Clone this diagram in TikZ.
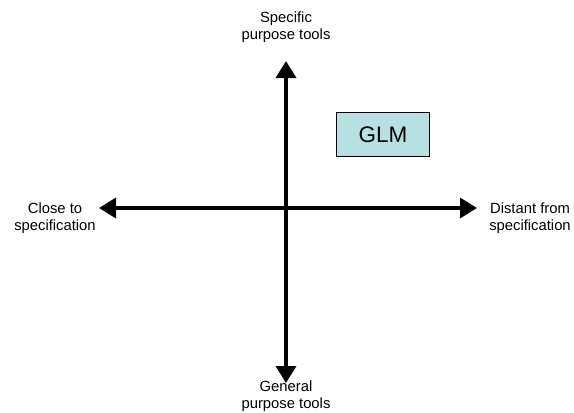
\documentclass[tikz,border=0pt]{standalone}
\usepackage{fontspec}
\setmainfont{Liberation Sans}
\usetikzlibrary{arrows.meta}
\begin{document}
\begin{tikzpicture}[x=1pt,y=-1pt,
  axis/.style={line width=3.5pt,-{Triangle[width=20pt,length=17pt]}},
  lbl/.style={align=center,font=\fontsize{14.8}{16.5}\selectfont,inner sep=0pt,anchor=base},
  glmbox/.style={draw=black,line width=1.6pt,fill=glmfill,minimum width=93pt,minimum height=44pt,font=\fontsize{22.5}{24}\selectfont}]
\definecolor{glmfill}{HTML}{B8E0E2}
\useasboundingbox (0,0) rectangle (574,413);
\coordinate (o) at (286,208);
\coordinate (top) at (286,61);
\coordinate (bot) at (286,383);
\coordinate (lft) at (99,208);
\coordinate (rgt) at (477,208);
\draw[axis] (o) -- (top);
\draw[axis] (o) -- (bot);
\draw[axis] (o) -- (lft);
\draw[axis] (o) -- (rgt);
% anchor=base sits on the last line of each label
\node[lbl] (spec) at (286,39) {Specific\\purpose tools};
\node[lbl] (gen) at (286,408) {General\\purpose tools};
\node[lbl] (close) at (55,230) {Close to\\specification};
\node[lbl] (dist) at (530,230) {Distant from\\specification};
\node[glmbox] (glm) at (383,134.5) {GLM};
\end{tikzpicture}
\end{document}
